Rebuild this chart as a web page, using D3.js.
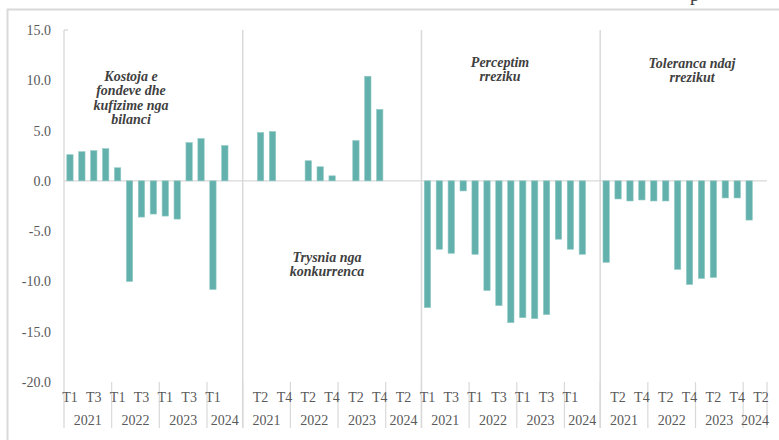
<!DOCTYPE html>
<html>
<head>
<meta charset="utf-8">
<script src="https://cdn.jsdelivr.net/npm/d3@7"></script>
<style>
  html, body { margin: 0; padding: 0; background: #ffffff; }
  svg { display: block; }
  svg text { font-family: "Liberation Serif", Tinos, "Times New Roman", "DejaVu Serif", serif; }
</style>
</head>
<body>
<svg id="chart" width="779" height="440"></svg>
<script>
// ---- Data ----
const years = ["2021", "2022", "2023", "2024"];
const quarters = ["T1", "T2", "T3", "T4"];
const periodsPerYear = [4, 4, 4, 2];
const panelTitles = [
  ["Kostoja e", "fondeve dhe", "kufizime nga", "bilanci"],
  ["Trysnia nga", "konkurrenca"],
  ["Perceptim", "rreziku"],
  ["Toleranca ndaj", "rrezikut"]
];
const kostoja    = [2.6, 2.9, 3.0, 3.2, 1.3, -10.0, -3.6, -3.3, -3.5, -3.8, 3.8, 4.2, -10.8, 3.5];
const trysnia    = [null, 4.8, 4.9, null, null, 2.0, 1.4, 0.5, null, 4.0, 10.4, 7.1, null, null];
const perceptimi = [-12.6, -6.8, -7.2, -1.0, -7.3, -10.9, -12.4, -14.1, -13.6, -13.7, -13.3, -5.8, -6.8, -7.3];
const toleranca  = [-8.1, -1.8, -2.0, -1.9, -2.0, -2.0, -8.8, -10.3, -9.7, -9.6, -1.7, -1.7, -3.9, null];
const yTicks = [15, 10, 5, 0, -5, -10, -15, -20];

const seriesList = [kostoja, trysnia, perceptimi, toleranca];

// ---- Build flat category list (blank slot after panels 1-3) ----
const cats = [];
seriesList.forEach((vals, p) => {
  let i = 0;
  years.forEach((yr, yi) => {
    for (let q = 0; q < periodsPerYear[yi]; q++) {
      cats.push({key: p + "-" + i, panel: p, year: yr, q: quarters[q], value: vals[i]});
      i++;
    }
  });
  if (p < seriesList.length - 1) cats.push({key: p + "-blank", panel: p, year: "2024", q: "", value: null});
});
cats.forEach((c, gi) => { c.gi = gi; });

// ---- Layout ----
const svg = d3.select("#chart");
const FONT = '"Liberation Serif", Tinos, "Times New Roman", "DejaVu Serif", serif';
const textColor = "#595959";
const lineColor = "#d9d9d9";
const plotLeft = 64, plotRight = 767, plotTop = 30, plotBottom = 382, axisBottom = 428;

const x = d3.scaleBand().domain(cats.map(c => c.key)).range([plotLeft, plotRight]).paddingInner(0.47).paddingOuter(0.235);
const y = d3.scaleLinear().domain([-20, 15]).range([plotBottom, plotTop]);
const step = x.step();
const left = k => x(k) - x.step() * x.paddingInner() / 2;

// outer frame
svg.append("rect").attr("x", 7.5).attr("y", 9.5).attr("width", 820).attr("height", 500)
  .attr("fill", "none").attr("stroke", lineColor).attr("stroke-width", 2);

// clipped character at top (from text above the chart, cut off as in the source)
svg.append("text").attr("x", 690).attr("y", 1).style("font-family", FONT).attr("font-size", 19)
  .attr("fill", "#404040").text("p");

// zero line
svg.append("line").attr("x1", plotLeft).attr("x2", plotRight).attr("y1", y(0)).attr("y2", y(0))
  .attr("stroke", lineColor).attr("stroke-width", 1.2);

// y axis
const yAxis = svg.append("g").attr("transform", `translate(${plotLeft},0)`)
  .call(d3.axisLeft(y).tickValues(yTicks).tickFormat(d => d.toFixed(1)).tickSize(0).tickPadding(13));
yAxis.select(".domain").remove();
yAxis.attr("font-family", null).attr("font-size", null);
yAxis.selectAll("text").style("font-family", FONT).attr("font-size", 14).attr("fill", textColor);
svg.append("line").attr("x1", plotLeft).attr("x2", plotLeft).attr("y1", plotTop).attr("y2", axisBottom)
  .attr("stroke", lineColor).attr("stroke-width", 1.3);
svg.append("line").attr("x1", plotLeft).attr("x2", plotLeft + 4).attr("y1", y(15)).attr("y2", y(15))
  .attr("stroke", lineColor).attr("stroke-width", 1.3);

// panel separators (full height)
const panelStarts = [1, 2, 3].map(p => cats.find(c => c.panel === p));
svg.selectAll(".psep").data(panelStarts).enter().append("line")
  .attr("x1", d => left(d.key)).attr("x2", d => left(d.key))
  .attr("y1", plotTop).attr("y2", axisBottom)
  .attr("stroke", lineColor).attr("stroke-width", 1.5);

// year groups
const groups = d3.groups(cats, c => c.panel + "|" + c.year).map(([k, arr]) => ({
  year: arr[0].year, first: arr[0], last: arr[arr.length - 1]
}));
svg.selectAll(".ysep").data(groups).enter().append("line")
  .attr("x1", d => left(d.last.key) + step).attr("x2", d => left(d.last.key) + step)
  .attr("y1", plotBottom).attr("y2", axisBottom)
  .attr("stroke", lineColor).attr("stroke-width", 1.2);
svg.selectAll(".ylab").data(groups).enter().append("text")
  .attr("x", d => (left(d.first.key) + left(d.last.key) + step) / 2)
  .attr("y", 425).attr("text-anchor", "middle")
  .style("font-family", FONT).attr("font-size", 14).attr("fill", textColor)
  .text(d => d.year);

// quarter labels (every other category)
const xAxis = svg.append("g").attr("transform", `translate(0,${plotBottom})`)
  .call(d3.axisBottom(x).tickSize(0).tickPadding(0)
    .tickFormat(k => { const c = cats.find(cc => cc.key === k); return c.gi % 2 === 0 ? c.q : ""; }));
xAxis.select(".domain").remove();
xAxis.attr("font-family", null).attr("font-size", null);
xAxis.selectAll("text").style("font-family", FONT).attr("font-size", 14).attr("fill", textColor)
  .attr("dy", null).attr("y", 19.5);

// bars
const barData = cats.filter(c => c.value !== null);
svg.selectAll(".bar").data(barData).enter().append("rect")
  .attr("x", d => x(d.key)).attr("width", x.bandwidth())
  .attr("y", d => y(Math.max(0, d.value)))
  .attr("height", d => Math.abs(y(d.value) - y(0)))
  .attr("fill", "#62b1ac").attr("stroke", "#8fc8c4").attr("stroke-width", 0.6);

// panel titles (annotations)
const titlePos = [[131, 80.5], [327, 261.5], [500, 66.5], [692, 67.5]];
panelTitles.forEach((lines, p) => {
  const t = svg.append("text").attr("text-anchor", "middle")
    .style("font-family", FONT).attr("font-size", 14).attr("font-style", "italic").attr("font-weight", "bold")
    .attr("fill", "#404040");
  lines.forEach((ln, i) => {
    t.append("tspan").attr("x", titlePos[p][0]).attr("y", titlePos[p][1] + i * 14.5).text(ln);
  });
});
</script>
</body>
</html>
